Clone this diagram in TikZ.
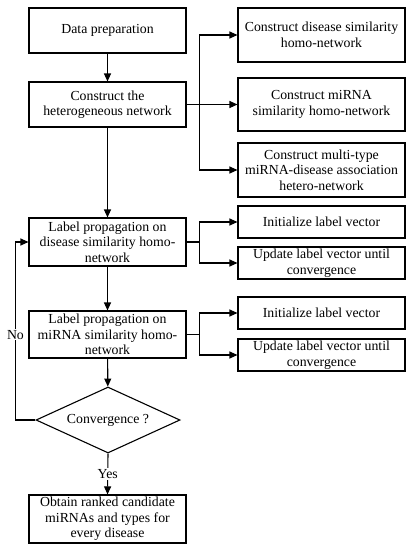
\documentclass[tikz,border=0pt]{standalone}
\usepackage{fontspec}
\setmainfont{Liberation Serif}
\usepackage{tikz}
\usetikzlibrary{shapes, arrows.meta, positioning, calc}

\tikzset{
  leftbox/.style={draw, line width=1.1pt, minimum width=157pt, minimum height=45pt, align=center, inner sep=2pt, font=\fontsize{13.8}{15.5}\selectfont},
  rightbox/.style={draw, line width=1.1pt, minimum width=167pt, minimum height=32pt, align=center, inner sep=2pt, font=\fontsize{13.8}{15.5}\selectfont},
  decide/.style={draw, diamond, line width=1.1pt, minimum width=144pt, minimum height=66pt, aspect=2.18, inner sep=0pt, font=\fontsize{13.8}{15.5}\selectfont},
  arr/.style={line width=1.1pt, -{Triangle[length=8pt, width=7pt]}},
  lbl/.style={font=\fontsize{13.8}{15.5}\selectfont, fill=white, inner sep=1pt}
}

\begin{document}
\begin{tikzpicture}[x=1pt, y=-1pt]
  \useasboundingbox (0,0) rectangle (413,550);
  % left column
  \node[leftbox] (prep) at (107.5, 30.5) {Data preparation};
  \node[leftbox] (hetero) at (107.5, 104.5) {Construct the\\heterogeneous network};
  \node[leftbox, minimum height=48pt] (lpdis) at (107.5, 242) {Label propagation on\\disease similarity homo-\\network};
  \node[leftbox, minimum height=47pt] (lpmir) at (107.5, 334.5) {Label propagation on\\miRNA similarity homo-\\network};
  \node[decide] (conv) at (108, 420) {Convergence ?};
  \node[leftbox, minimum height=48pt] (result) at (107.5, 519) {Obtain ranked candidate\\miRNAs and types for\\every disease};
  % right column
  \node[rightbox, minimum height=54pt] (cdis) at (321.5, 35) {Construct disease similarity\\homo-network};
  \node[rightbox, minimum height=53pt] (cmir) at (321.5, 104.5) {Construct miRNA\\similarity homo-network};
  \node[rightbox, minimum height=54pt] (cass) at (321.5, 170) {Construct multi-type\\miRNA-disease association\\hetero-network};
  \node[rightbox] (init1) at (321.5, 222) {Initialize label vector};
  \node[rightbox] (upd1) at (321.5, 263) {Update label vector until\\convergence};
  \node[rightbox] (init2) at (321.5, 313) {Initialize label vector};
  \node[rightbox] (upd2) at (321.5, 355) {Update label vector until\\convergence};
  % main flow
  \draw[arr] (prep) -- (hetero);
  \draw[arr] (hetero) -- (lpdis);
  \draw[arr] (lpdis) -- (lpmir);
  \draw[arr] (lpmir) -- (conv);
  \draw[arr] (conv.south) -- node[lbl] {Yes} (result.north);
  \draw[arr] (conv.west) -- ++(-20,0) |- node[lbl, pos=0.24] {No} (lpdis.west);
  % branches
  \draw[arr] (hetero.east) -- ++(13,0) |- (cdis.west);
  \draw[arr] (hetero.east) -- (cmir.west);
  \draw[arr] (hetero.east) -- ++(13,0) |- (cass.west);
  \draw[arr] (lpdis.east) -- ++(13,0) |- (init1.west);
  \draw[arr] (lpdis.east) -- ++(13,0) |- (upd1.west);
  \draw[arr] (lpmir.east) -- ++(13,0) |- (init2.west);
  \draw[arr] (lpmir.east) -- ++(13,0) |- (upd2.west);
\end{tikzpicture}
\end{document}
